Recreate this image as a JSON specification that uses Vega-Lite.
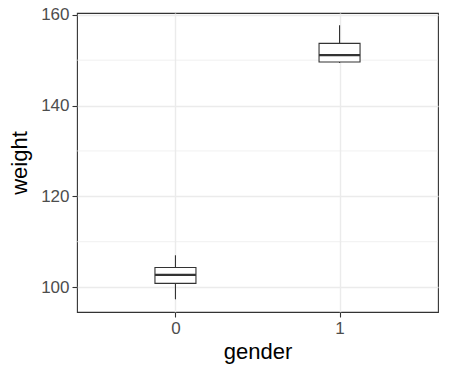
{
  "$schema": "https://vega.github.io/schema/vega-lite/v6.json",
  "width": 361,
  "height": 299,
  "autosize": {"type": "none"},
  "padding": {"left": 77, "top": 13, "right": 12, "bottom": 63},
  "background": "white",
  "config": {
    "view": {"stroke": "#333333", "strokeWidth": 1.1},
    "axis": {
      "domain": false,
      "grid": true,
      "gridColor": "#EBEBEB",
      "gridWidth": 1.4,
      "tickColor": "#333333",
      "tickSize": 5,
      "tickWidth": 1.1,
      "labelColor": "#4D4D4D",
      "labelFont": "Liberation Sans",
      "labelFontSize": 17,
      "titleFont": "Liberation Sans",
      "titleFontSize": 22,
      "titleFontWeight": "normal",
      "titleColor": "black"
    }
  },
  "datasets": {
    "boxes": [
      {"gender": "0", "lower": 97.3, "q1": 100.8, "median": 102.7, "q3": 104.3, "upper": 107.0},
      {"gender": "1", "lower": 149.4, "q1": 149.6, "median": 151.1, "q3": 153.7, "upper": 157.7}
    ],
    "minor": [{"v": 110}, {"v": 130}, {"v": 150}]
  },
  "encoding": {
    "y": {
      "type": "quantitative",
      "scale": {"domain": [94.5, 160.4], "nice": false, "zero": false},
      "axis": {"values": [100, 120, 140, 160], "title": "weight", "labelPadding": 3, "titlePadding": 9}
    }
  },
  "layer": [
    {
      "data": {"name": "minor"},
      "mark": {"type": "rule", "color": "#EBEBEB", "strokeWidth": 0.7},
      "encoding": {
        "y": {"field": "v", "type": "quantitative"}
      }
    },
    {
      "data": {"name": "boxes"},
      "encoding": {
        "x": {
          "field": "gender", "type": "nominal",
          "scale": {"type": "point", "padding": 0.6},
          "axis": {"labelAngle": 0, "title": "gender", "labelPadding": 3, "titlePadding": 5}
        }
      },
      "layer": [
        {
          "mark": {"type": "rule", "color": "#333333", "strokeWidth": 1.1},
          "encoding": {
            "y": {"field": "lower", "type": "quantitative"},
            "y2": {"field": "upper"}
          }
        },
        {
          "mark": {"type": "bar", "size": 41, "fill": "white", "stroke": "#333333", "strokeWidth": 1.1},
          "encoding": {
            "y": {"field": "q1", "type": "quantitative"},
            "y2": {"field": "q3"}
          }
        },
        {
          "mark": {"type": "tick", "size": 41, "thickness": 2.2, "color": "#333333", "opacity": 1},
          "encoding": {
            "y": {"field": "median", "type": "quantitative"}
          }
        }
      ]
    }
  ]
}
